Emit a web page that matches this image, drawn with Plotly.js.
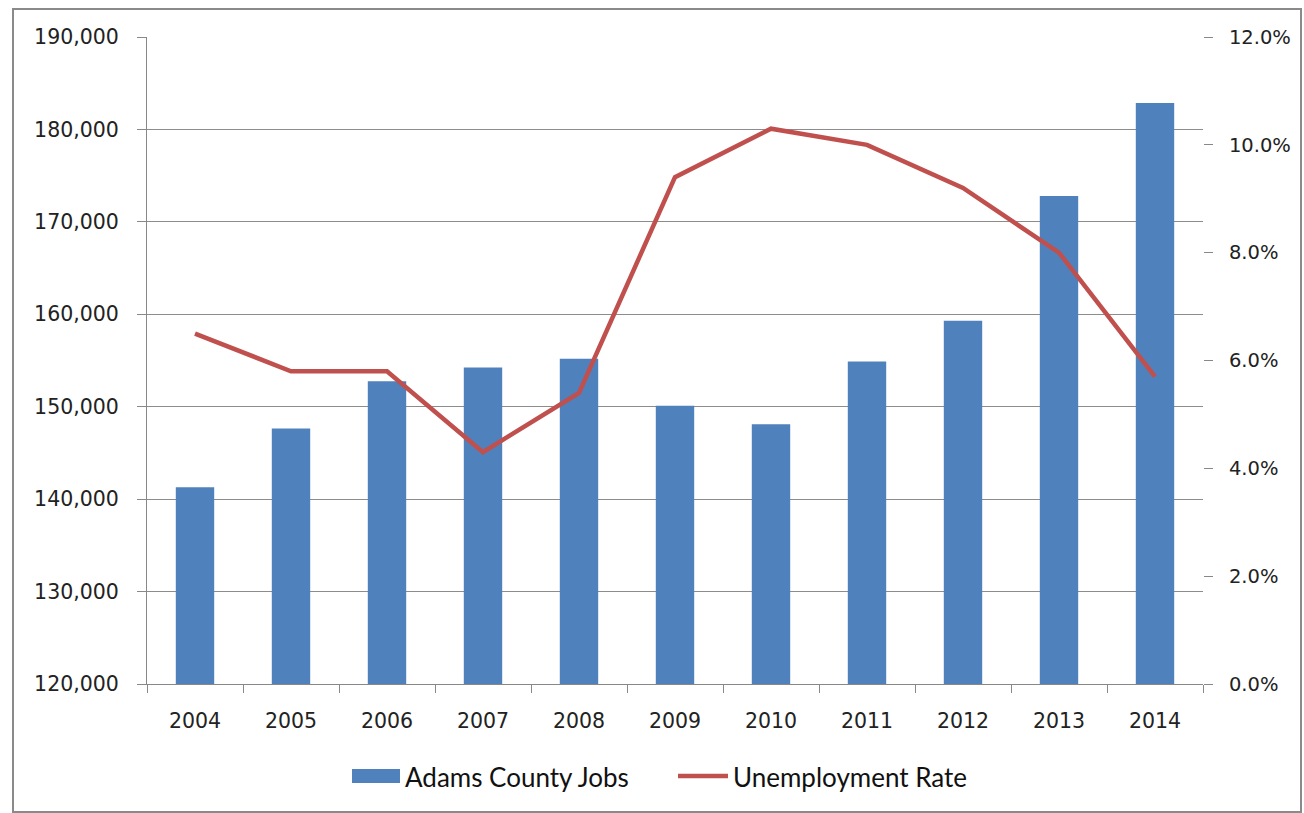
<!DOCTYPE html>
<html><head><meta charset="utf-8">
<script src="https://cdn.plot.ly/plotly-3.0.1.min.js"></script>
<style>html,body{margin:0;padding:0;background:#fff;}#chart{width:1304px;height:813px;}</style>
</head><body><div id="chart"></div>
<script>
const years = ['2004','2005','2006','2007','2008','2009','2010','2011','2012','2013','2014'];
const jobs = [141300, 147650, 152750, 154250, 155200, 150100, 148100, 154900, 159300, 172800, 182850];
const unemployment = [0.065, 0.058, 0.058, 0.043, 0.054, 0.094, 0.103, 0.100, 0.092, 0.080, 0.057];
const leftTicks = [120000,130000,140000,150000,160000,170000,180000,190000];
const leftTickText = ['120,000','130,000','140,000','150,000','160,000','170,000','180,000','190,000'];
const seriesNames = ['Adams County Jobs', 'Unemployment Rate'];

const jobsColor = '#4F81BD', rateColor = '#C0504D';
const tickFont = {family: '"DejaVu Sans", Verdana, sans-serif', size: 20.5, color: '#222'};
const legendFont = {family: 'Lato, "Open Sans", sans-serif', size: 26, color: '#111'};

const data = [
  {type: 'bar', x: years, y: jobs, name: seriesNames[0], marker: {color: jobsColor}, yaxis: 'y'},
  {type: 'scatter', mode: 'lines', x: years, y: unemployment, name: seriesNames[1], yaxis: 'y2',
   line: {color: rateColor, width: 4.5}}
];

// paper-coordinate helpers (plot area: x 147..1203, y 37..684 px)
const px = v => (v - 147) / 1056;
const py = v => (684 - v) / 647;

const layout = {
  width: 1304, height: 813,
  margin: {l: 147, r: 101, t: 37, b: 129},
  paper_bgcolor: '#fff', plot_bgcolor: '#fff',
  bargap: 0.6,
  showlegend: false,
  xaxis: {type: 'category', tickfont: tickFont, ticks: 'outside', tickson: 'boundaries', ticklen: 8,
          tickcolor: '#888', showline: true, linecolor: '#888', linewidth: 1, showgrid: false,
          ticklabelstandoff: 18},
  yaxis: {range: [120000, 190000], tickvals: leftTicks, ticktext: leftTickText, tickfont: tickFont,
          ticks: 'outside', ticklen: 9, tickcolor: '#888', showline: true, linecolor: '#888', linewidth: 1,
          showgrid: true, gridcolor: '#8c8c8c', gridwidth: 1, zeroline: false, ticklabelstandoff: 14},
  yaxis2: {overlaying: 'y', side: 'right', range: [0, 0.12], dtick: 0.02, tickformat: '.1%',
           tickfont: Object.assign({}, tickFont, {size: 19.5}), ticks: 'outside', ticklen: 9, tickcolor: '#888',
           showline: false, showgrid: false, zeroline: false, ticklabelstandoff: 12},
  shapes: [
    {type: 'rect', xref: 'paper', yref: 'paper', x0: px(13), x1: px(1301), y0: py(812), y1: py(9),
     line: {color: '#8a8a8a', width: 2}, fillcolor: 'rgba(0,0,0,0)'},
    {type: 'rect', xref: 'paper', yref: 'paper', x0: px(352), x1: px(400), y0: py(783), y1: py(769),
     line: {width: 0}, fillcolor: jobsColor},
    {type: 'line', xref: 'paper', yref: 'paper', x0: px(678), x1: px(728), y0: py(776), y1: py(776),
     line: {color: rateColor, width: 4.5}}
  ],
  annotations: [
    {xref: 'paper', yref: 'paper', x: px(403), y: py(777), xanchor: 'left', yanchor: 'middle',
     text: seriesNames[0], showarrow: false, font: legendFont},
    {xref: 'paper', yref: 'paper', x: px(731), y: py(777), xanchor: 'left', yanchor: 'middle',
     text: seriesNames[1], showarrow: false, font: legendFont}
  ]
};
Plotly.newPlot('chart', data, layout, {displayModeBar: false, staticPlot: true});
</script></body></html>
